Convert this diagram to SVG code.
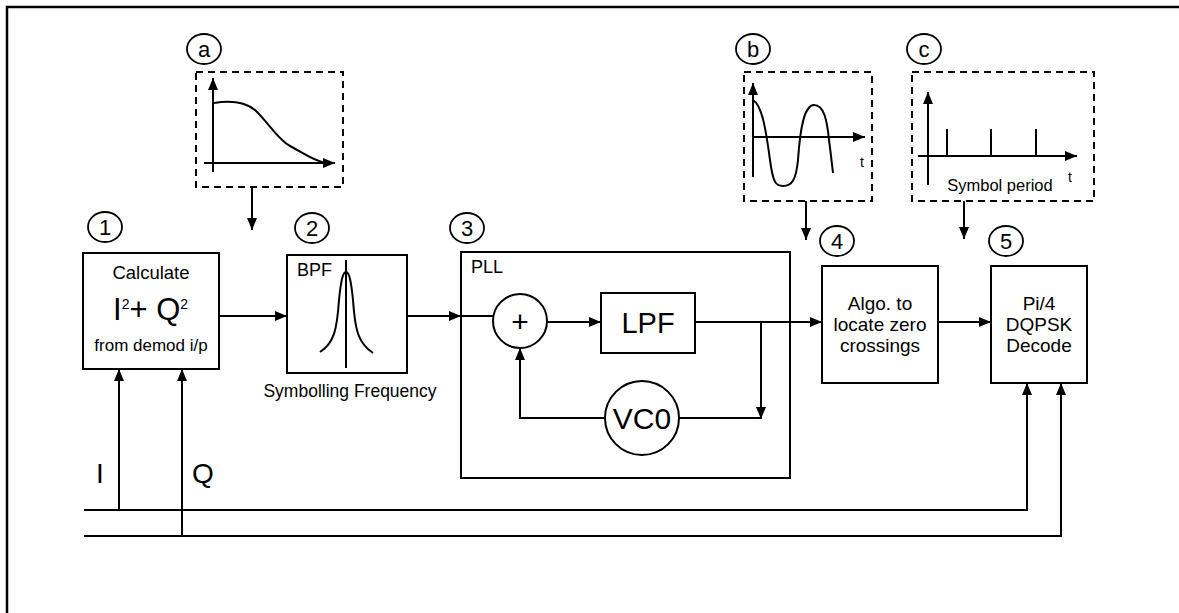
<svg xmlns="http://www.w3.org/2000/svg" width="1179" height="613" viewBox="0 0 1179 613">
<style>
  text { font-family: "Liberation Sans", Arial, sans-serif; fill: #000; }
  .ln { fill: none; stroke: #000; stroke-width: 2; }
  .box { fill: #fff; stroke: #000; stroke-width: 2; }
  .frame { fill: none; stroke: #000; stroke-width: 2; }
  .dash { fill: none; stroke: #000; stroke-width: 2; stroke-dasharray: 7 5; }
  .lbl { fill: #fff; stroke: #000; stroke-width: 1.8; }
  .num { font-size: 22px; text-anchor: middle; }
  .c { text-anchor: middle; }
</style>
<defs>
  <marker id="ah" markerUnits="userSpaceOnUse" markerWidth="12" markerHeight="10" refX="12" refY="5" orient="auto">
    <path d="M0,0 L12,5 L0,10 z" fill="#000"/>
  </marker>
</defs>

<!-- outer frame -->
<path d="M7,613 L7,7 L1179,7" fill="none" stroke="#000" stroke-width="2.5"/>

<!-- inset graphs -->
<g id="graph-a">
  <ellipse class="lbl" cx="204" cy="49" rx="17" ry="15"/>
  <text class="num" x="204" y="57">a</text>
  <rect class="dash" x="196" y="72" width="147" height="115"/>
  <line class="ln" x1="213" y1="172" x2="213" y2="78" marker-end="url(#ah)"/>
  <line class="ln" x1="204" y1="163" x2="335" y2="163" marker-end="url(#ah)"/>
  <path class="ln" d="M214,103 C232,100 245,102 255,110 C268,122 278,140 290,146 C305,154 312,160 325,163"/>
</g>
<g id="graph-b">
  <ellipse class="lbl" cx="753" cy="49" rx="17" ry="15"/>
  <text class="num" x="753" y="57">b</text>
  <rect class="dash" x="744" y="72" width="128" height="129"/>
  <line class="ln" x1="753" y1="177" x2="753" y2="83" marker-end="url(#ah)"/>
  <line class="ln" x1="753" y1="137" x2="865" y2="137" marker-end="url(#ah)"/>
  <path class="ln" d="M753,100 C762,105 766,130 770,160 C773,183 776,186 783,186 C792,186 796,180 798,160 C800,130 804,105 814,105 C824,105 827,120 829,140 C831,155 832,165 833,173"/>
  <text x="862" y="167" font-size="14" text-anchor="middle">t</text>
</g>
<g id="graph-c">
  <ellipse class="lbl" cx="924" cy="49" rx="17" ry="15"/>
  <text class="num" x="924" y="57">c</text>
  <rect class="dash" x="912" y="72" width="182" height="129"/>
  <line class="ln" x1="928" y1="185" x2="928" y2="92" marker-end="url(#ah)"/>
  <line class="ln" x1="918" y1="156" x2="1077" y2="156" marker-end="url(#ah)"/>
  <line class="ln" x1="947" y1="129" x2="947" y2="156"/>
  <line class="ln" x1="991" y1="129" x2="991" y2="156"/>
  <line class="ln" x1="1036" y1="129" x2="1036" y2="156"/>
  <text x="1000" y="191" font-size="16.5" text-anchor="middle">Symbol period</text>
  <text x="1070" y="182" font-size="14" text-anchor="middle">t</text>
</g>

<!-- node 3: PLL container (drawn before connectors) -->
<g id="node3">
  <ellipse class="lbl" cx="467" cy="228" rx="17" ry="15"/>
  <text class="num" x="467" y="236">3</text>
  <rect class="frame" x="461" y="252" width="329" height="226"/>
  <text x="471" y="273" font-size="18">PLL</text>
</g>

<!-- connectors -->
<g id="connectors">
  <line class="ln" x1="252" y1="187" x2="252" y2="230" marker-end="url(#ah)"/>
  <line class="ln" x1="806" y1="201" x2="806" y2="240" marker-end="url(#ah)"/>
  <line class="ln" x1="964" y1="201" x2="964" y2="239" marker-end="url(#ah)"/>
  <line class="ln" x1="219" y1="316" x2="287" y2="316" marker-end="url(#ah)"/>
  <line class="ln" x1="407" y1="316" x2="461" y2="316" marker-end="url(#ah)"/>
  <line class="ln" x1="461" y1="316" x2="494" y2="316"/>
  <line class="ln" x1="547" y1="322" x2="601" y2="322" marker-end="url(#ah)"/>
  <line class="ln" x1="695" y1="322" x2="822" y2="322" marker-end="url(#ah)"/>
  <line class="ln" x1="761" y1="322" x2="761" y2="419" marker-end="url(#ah)"/>
  <line class="ln" x1="679" y1="418" x2="761" y2="418"/>
  <polyline class="ln" points="605,418 520,418 520,348" marker-end="url(#ah)"/>
  <line class="ln" x1="938" y1="322" x2="991" y2="322" marker-end="url(#ah)"/>
  <polyline class="ln" points="84,510 1027,510 1027,383" marker-end="url(#ah)" stroke-width="2.5"/>
  <line class="ln" x1="119" y1="510" x2="119" y2="369" marker-end="url(#ah)"/>
  <polyline class="ln" points="84,536 1061,536 1061,383" marker-end="url(#ah)" stroke-width="2.5"/>
  <line class="ln" x1="182" y1="536" x2="182" y2="369" marker-end="url(#ah)"/>
  <text x="100" y="483" font-size="28" text-anchor="middle">I</text>
  <text x="192" y="483" font-size="28">Q</text>
</g>

<!-- node 1 -->
<g id="node1">
  <ellipse class="lbl" cx="105" cy="227" rx="17" ry="15"/>
  <text class="num" x="105" y="235">1</text>
  <rect class="box" x="83" y="253" width="136" height="116"/>
  <text class="c" x="151" y="279" font-size="18.5">Calculate</text>
  <text x="113" y="320" font-size="31">I<tspan font-size="14" dy="-11">2</tspan><tspan dy="11">+ Q</tspan><tspan font-size="14" dy="-11">2</tspan></text>
  <text class="c" x="151" y="351" font-size="17">from demod i/p</text>
</g>

<!-- node 2 -->
<g id="node2">
  <ellipse class="lbl" cx="312" cy="228" rx="17" ry="15"/>
  <text class="num" x="312" y="236">2</text>
  <rect class="box" x="287" y="255" width="120" height="118"/>
  <text x="297" y="276" font-size="18">BPF</text>
  <line class="ln" x1="346" y1="260" x2="346" y2="368"/>
  <path class="ln" d="M320,352 C334,343 337,330 339,300 C341,280 343,272 346,272 C349,272 351,280 353,300 C355,330 358,343 373,353"/>
  <text class="c" x="350" y="397" font-size="17.5">Symbolling Frequency</text>
</g>

<g id="sum">
  <circle class="box" cx="520" cy="321" r="27"/>
  <text class="c" x="520" y="332" font-size="30">+</text>
</g>
<g id="lpf">
  <rect class="box" x="601" y="293" width="94" height="60"/>
  <text class="c" x="648" y="333" font-size="29">LPF</text>
</g>
<g id="vco">
  <circle class="box" cx="642" cy="418" r="37"/>
  <text class="c" x="642" y="429" font-size="30">VC0</text>
</g>

<!-- node 4 -->
<g id="node4">
  <ellipse class="lbl" cx="837" cy="241" rx="17" ry="15"/>
  <text class="num" x="837" y="249">4</text>
  <rect class="box" x="822" y="266" width="116" height="117"/>
  <text class="c" x="880" y="310" font-size="19">Algo. to</text>
  <text class="c" x="880" y="331" font-size="19">locate zero</text>
  <text class="c" x="880" y="352" font-size="19">crossings</text>
</g>

<!-- node 5 -->
<g id="node5">
  <ellipse class="lbl" cx="1006" cy="241" rx="17" ry="15"/>
  <text class="num" x="1006" y="249">5</text>
  <rect class="box" x="991" y="266" width="96" height="117"/>
  <text class="c" x="1039" y="310" font-size="19">Pi/4</text>
  <text class="c" x="1039" y="331" font-size="19">DQPSK</text>
  <text class="c" x="1039" y="352" font-size="19">Decode</text>
</g>
</svg>
